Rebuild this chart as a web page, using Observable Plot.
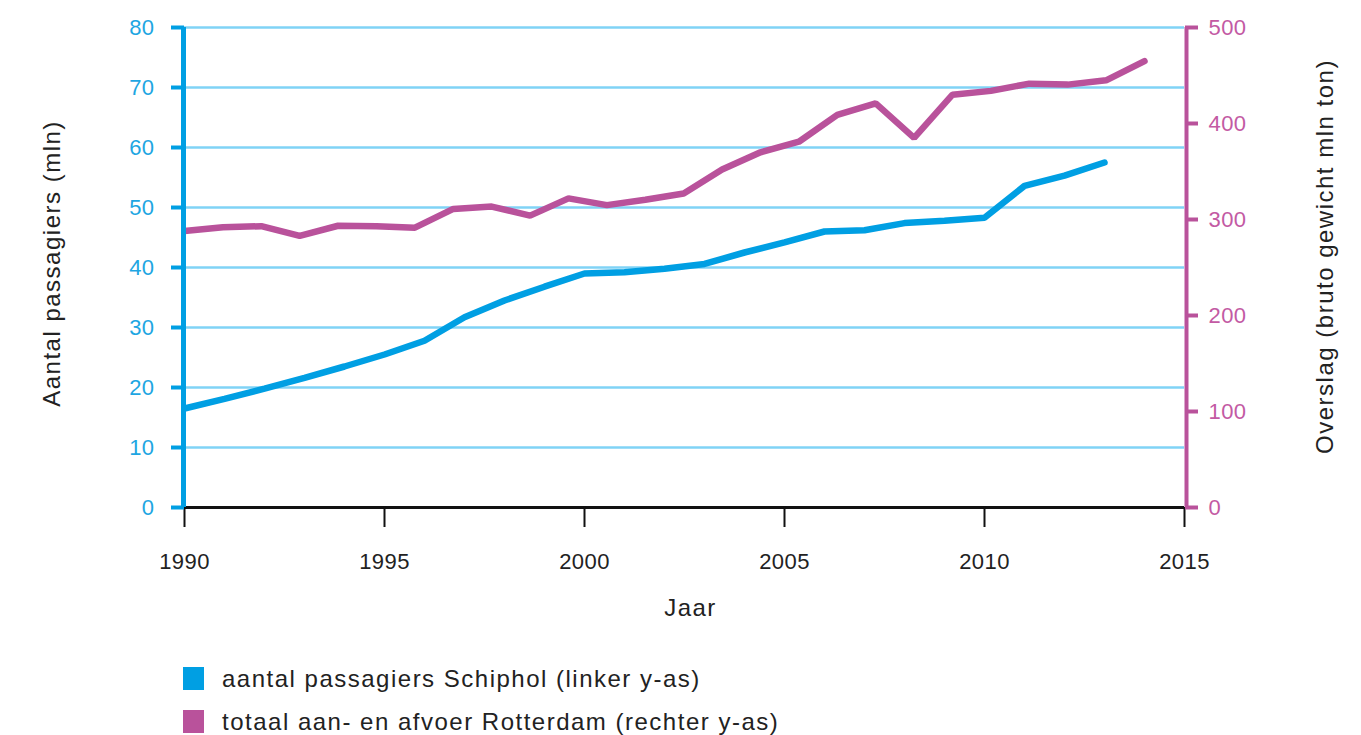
<!DOCTYPE html>
<html>
<head>
<meta charset="utf-8">
<script src="https://cdn.jsdelivr.net/npm/d3@7"></script>
<script src="https://cdn.jsdelivr.net/npm/@observablehq/plot@0.6"></script>
<style>
  html, body { margin: 0; padding: 0; background: #fff; }
  #wrap { position: relative; width: 1361px; height: 735px; overflow: hidden; font-family: "Liberation Sans", Arial, sans-serif; }
  svg text { letter-spacing: 1.5px; }
  g[aria-label*="tick label"] text { letter-spacing: 0.4px; }
  .legend { position: absolute; left: 183px; top: 657px; }
  .row { display: flex; align-items: center; height: 43px; }
  .sw { width: 21px; height: 23px; margin-right: 18px; }
  .lt { font-size: 24px; letter-spacing: 1.5px; color: #222; }
</style>
</head>
<body>
<div id="wrap"></div>
<script>
// Schiphol passengers (mln), left axis
const schipholYears = [1990,1991,1992,1993,1994,1995,1996,1997,1998,1999,2000,2001,2002,2003,2004,2005,2006,2007,2008,2009,2010,2011,2012,2013];
const schipholValues = [16.5,18.1,19.8,21.6,23.5,25.5,27.8,31.7,34.5,36.8,39.0,39.2,39.8,40.6,42.5,44.2,46.0,46.2,47.4,47.8,48.3,53.6,55.3,57.5];

// Rotterdam throughput (mln ton), right axis
const rotterdamYears = [1990,1991,1992,1993,1994,1995,1996,1997,1998,1999,2000,2001,2002,2003,2004,2005,2006,2007,2008,2009,2010,2011,2012,2013,2014,2015];
const rotterdamValues = [288,292,293,283,293.5,293,291.5,311,313.5,304,322,315,320.5,327,352,370,381,409,421,385,430,434,441.5,440.5,445,465];

const leftTicks = [0,10,20,30,40,50,60,70,80];
const rightTicks = [0,100,200,300,400,500];
const xTicks = [1990,1995,2000,2005,2010,2015];

const labels = {
  x: "Jaar",
  yLeft: "Aantal passagiers (mln)",
  yRight: "Overslag (bruto gewicht mln ton)",
  s1: "aantal passagiers Schiphol (linker y-as)",
  s2: "totaal aan- en afvoer Rotterdam (rechter y-as)"
};

const blue = "#009fe3", blueText = "#1ea6e2";
const mag = "#b9529b", magText = "#c35aa3";
const grid = "#80d3f6";

// right axis values mapped onto left scale (0–500 ↔ 0–80)
const k = 80 / 500;

const schiphol = schipholYears.map((year, i) => ({year, value: schipholValues[i]}));
// the original chart squeezes the 26 Rotterdam points between 1990 and 2014
const rotterdam = rotterdamYears.map((year, i) => ({year, value: rotterdamValues[i]}));
const rotX = d => 1990 + (d.year - 1990) * 24 / 25;

const chart = Plot.plot({
  width: 1361,
  height: 650,
  marginLeft: 184,
  marginRight: 177,
  marginTop: 27,
  marginBottom: 143,
  x: {domain: [1990, 2015], axis: null},
  y: {domain: [0, 80], axis: null},
  style: {fontFamily: "'Liberation Sans', Arial, sans-serif", fontSize: "22px", background: "white", overflow: "visible"},
  marks: [
    Plot.ruleY(leftTicks.filter(d => d > 0), {stroke: grid, strokeWidth: 2.5}),
    Plot.lineY(rotterdam, {x: rotX, y: d => d.value * k, stroke: mag, strokeWidth: 6.5, strokeLinejoin: "miter"}),
    Plot.lineY(schiphol, {x: "year", y: "value", stroke: blue, strokeWidth: 6.5, strokeLinejoin: "miter", strokeLinecap: "round"}),
    Plot.ruleY([0], {stroke: "#111", strokeWidth: 3}),
    Plot.axisX({ticks: xTicks, tickFormat: d => String(d), tickSize: 20, tickPadding: 26, stroke: "#111", strokeWidth: 2, fill: "#222", fontSize: 22, label: null}),
    Plot.axisY({anchor: "left", ticks: leftTicks, tickSize: 13, tickPadding: 17, stroke: blue, strokeWidth: 4, fill: blueText, fontSize: 22, label: null}),
    Plot.ruleX([1990], {y1: 0, y2: 80, stroke: blue, strokeWidth: 5, dx: -1}),
    Plot.axisY({anchor: "right", ticks: rightTicks.map(v => v * k), tickFormat: d => String(Math.round(d / k)), tickSize: 13, tickPadding: 11, stroke: mag, strokeWidth: 4, fill: magText, fontSize: 22, label: null}),
    Plot.ruleX([2015], {y1: 0, y2: 80, stroke: mag, strokeWidth: 4, dx: 2}),
    Plot.text([labels.x], {text: d => d, frameAnchor: "bottom", dy: 108, dx: 6, fontSize: 24, fill: "#222"}),
    Plot.text([labels.yLeft], {text: d => d, frameAnchor: "left", textAnchor: "middle", rotate: -90, dx: -132, dy: -4, fontSize: 24, fill: "#222"}),
    Plot.text([labels.yRight], {text: d => d, frameAnchor: "right", textAnchor: "middle", rotate: -90, dx: 141, dy: -11, fontSize: 24, fill: "#222"})
  ]
});

const wrap = document.getElementById("wrap");
wrap.appendChild(chart);

const legend = document.createElement("div");
legend.className = "legend";
legend.innerHTML = `
  <div class="row"><div class="sw" style="background:${blue}"></div><div class="lt">${labels.s1}</div></div>
  <div class="row"><div class="sw" style="background:${mag}"></div><div class="lt">${labels.s2}</div></div>`;
wrap.appendChild(legend);
</script>
</body>
</html>
